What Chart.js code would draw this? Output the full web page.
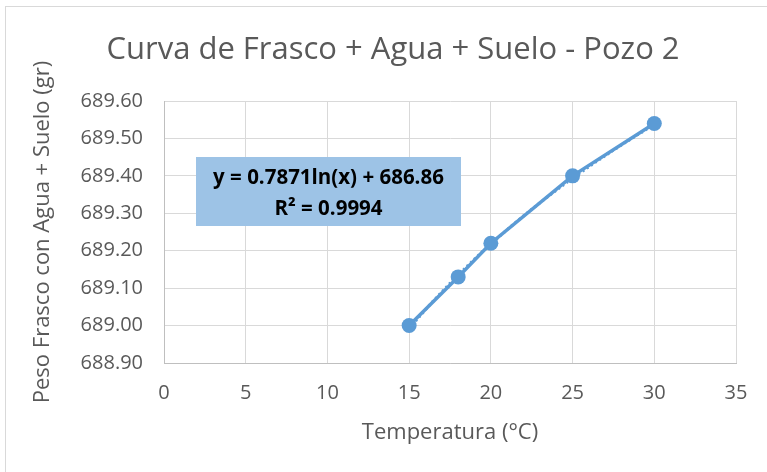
<!DOCTYPE html>
<html>
<head>
<meta charset="utf-8">
<script src="https://cdn.jsdelivr.net/npm/chart.js@4"></script>
<style>
  html, body { margin: 0; padding: 0; background: #ffffff; }
  #wrap { position: relative; width: 767px; height: 472px; }
  canvas { display: block; }
</style>
</head>
<body>
<div id="wrap"><canvas id="chart" width="767" height="472"></canvas></div>
<script>
// Temperatura (°C) del ensayo y peso medido del frasco con agua y suelo
const temperaturas = [15, 18, 20, 25, 30];
const pesos = [689.00, 689.13, 689.22, 689.40, 689.54];

// Línea de tendencia logarítmica: y = a·ln(x) + b, R²
const tendenciaA = 0.7871;
const tendenciaB = 686.86;
const tendenciaR2 = 0.9994;

// Marcas de los ejes
const ticksX = [0, 5, 10, 15, 20, 25, 30, 35];
const ticksY = [688.90, 689.00, 689.10, 689.20, 689.30, 689.40, 689.50, 689.60];

const titulo = 'Curva de Frasco + Agua + Suelo - Pozo 2';
const tituloX = 'Temperatura (°C)';
const tituloY = 'Peso Frasco con Agua + Suelo (gr)';

const AZUL = '#5B9BD5';
const GRIS_TEXTO = '#595959';
const GRIS_REJILLA = '#D9D9D9';
const FUENTE = "'Open Sans', 'Noto Sans', sans-serif";

const puntos = temperaturas.map((t, i) => ({ x: t, y: pesos[i] }));

// Curva de tendencia evaluada desde la ecuación indicada en la etiqueta
const tMin = temperaturas[0], tMax = temperaturas[temperaturas.length - 1];
const curva = [];
for (let t = tMin; t <= tMax + 1e-9; t += 0.5) {
  curva.push({ x: t, y: tendenciaA * Math.log(t) + tendenciaB });
}

const ecuacion = `y = ${tendenciaA}ln(x) + ${tendenciaB}`;
const r2 = `R² = ${tendenciaR2}`;

// Borde exterior del gráfico y cuadro con la ecuación de la tendencia
const decoracion = {
  id: 'decoracion',
  beforeDraw(chart) {
    const { ctx } = chart;
    ctx.save();
    ctx.fillStyle = '#ffffff';
    ctx.fillRect(0, 0, chart.width, chart.height);
    ctx.strokeStyle = GRIS_REJILLA;
    ctx.lineWidth = 1;
    ctx.strokeRect(5.5, 6.5, chart.width + 10, chart.height + 10);
    ctx.restore();
  },
  afterDatasetsDraw(chart) {
    const { ctx, chartArea } = chart;
    const x0 = chartArea.left + 32, y0 = chartArea.top + 56;
    const w = 265, h = 69;
    ctx.save();
    ctx.fillStyle = '#9DC3E6';
    ctx.fillRect(x0, y0, w, h);
    ctx.fillStyle = '#000000';
    ctx.font = `bold 20.5px ${FUENTE}`;
    ctx.textAlign = 'center';
    ctx.textBaseline = 'middle';
    ctx.fillText(ecuacion, x0 + w / 2, y0 + 21);
    ctx.fillText(r2, x0 + w / 2, y0 + 52);
    ctx.restore();
  }
};

new Chart(document.getElementById('chart'), {
  type: 'scatter',
  data: {
    datasets: [
      {
        label: 'Peso',
        data: puntos,
        showLine: true,
        borderColor: AZUL,
        backgroundColor: AZUL,
        borderWidth: 3.5,
        pointRadius: 7.5,
        pointHoverRadius: 7.5,
        pointBorderWidth: 0,
        order: 1
      },
      {
        label: 'Log. (Peso)',
        data: curva,
        showLine: true,
        borderColor: AZUL,
        borderWidth: 3,
        borderDash: [2, 3],
        pointRadius: 0,
        order: 2
      }
    ]
  },
  options: {
    responsive: false,
    animation: false,
    layout: { padding: { left: 50, right: 31, top: 0, bottom: 0 } },
    plugins: {
      legend: { display: false },
      tooltip: { enabled: false },
      title: {
        display: true,
        text: titulo,
        color: GRIS_TEXTO,
        font: { family: FUENTE, size: 31, weight: 'normal', lineHeight: 1.2 },
        padding: { top: 32, bottom: 31.8 }
      }
    },
    scales: {
      x: {
        type: 'linear',
        min: ticksX[0],
        max: ticksX[ticksX.length - 1],
        afterBuildTicks(scale) { scale.ticks = ticksX.map(v => ({ value: v })); },
        afterFit(scale) { scale.height = 109; },
        grid: { color: GRIS_REJILLA, lineWidth: 1, drawTicks: false },
        border: { color: '#BFBFBF', width: 1 },
        ticks: {
          color: GRIS_TEXTO,
          font: { family: FUENTE, size: 20 },
          padding: 18,
          maxRotation: 0,
          callback: v => String(v)
        },
        title: {
          display: true,
          text: tituloX,
          color: GRIS_TEXTO,
          font: { family: FUENTE, size: 22 },
          padding: { top: 4, bottom: 26 }
        }
      },
      y: {
        type: 'linear',
        min: ticksY[0],
        max: ticksY[ticksY.length - 1],
        afterBuildTicks(scale) { scale.ticks = ticksY.map(v => ({ value: v })); },
        afterFit(scale) { scale.width = 114; },
        grid: { color: GRIS_REJILLA, lineWidth: 1, drawTicks: false },
        border: { color: '#BFBFBF', width: 1 },
        ticks: {
          color: GRIS_TEXTO,
          font: { family: FUENTE, size: 20 },
          padding: 21,
          callback: v => Number(v).toFixed(2)
        },
        title: {
          display: true,
          text: tituloY,
          color: GRIS_TEXTO,
          font: { family: FUENTE, size: 22 },
          padding: { top: -20, bottom: 0 }
        }
      }
    }
  },
  plugins: [decoracion]
});
</script>
</body>
</html>
